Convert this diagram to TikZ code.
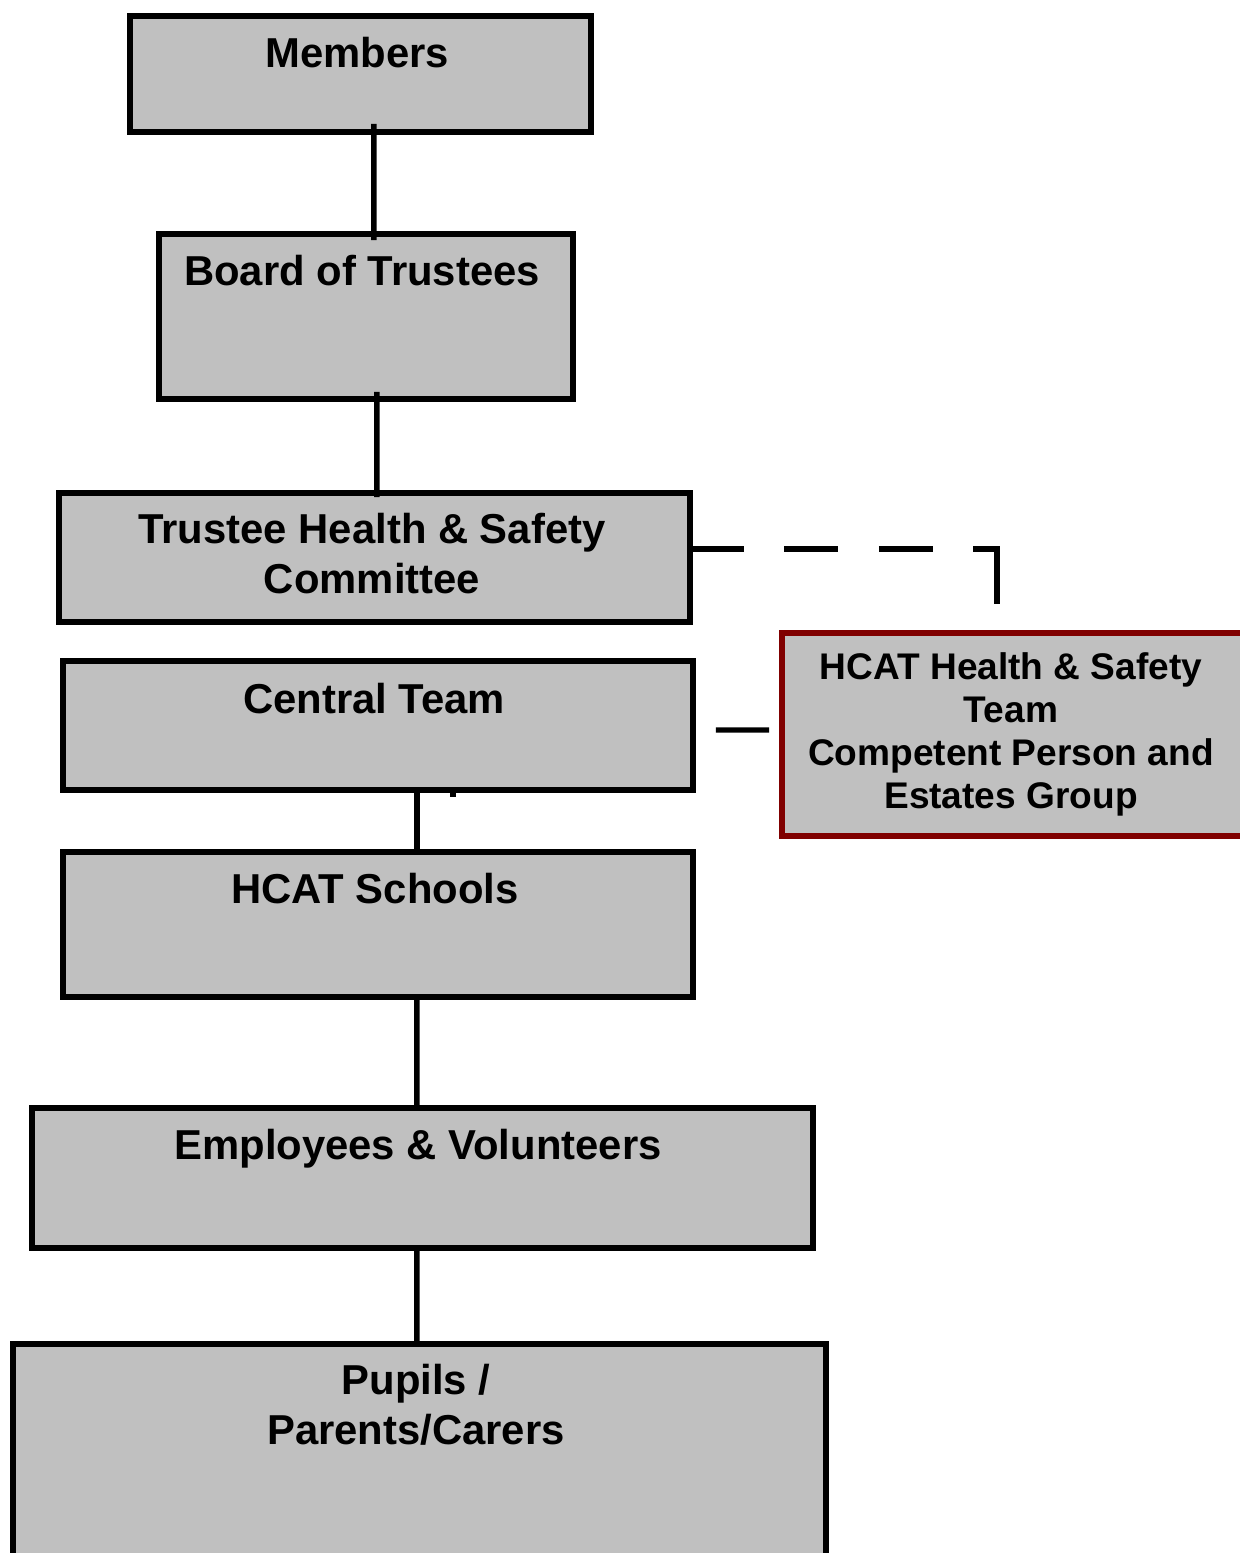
\documentclass[tikz,border=0pt]{standalone}
\usepackage{fontspec}
\setmainfont{Liberation Sans}
\usepackage{xcolor}
\usepackage{tikz}
\usetikzlibrary{positioning}

\definecolor{boxgray}{HTML}{C0C0C0}
\definecolor{teamred}{HTML}{800000}

\begin{document}
\begin{tikzpicture}[x=0.02cm, y=-0.02cm,
    orgbox/.style={draw, line width=3.3pt, fill=boxgray, anchor=north west, inner sep=0pt, outer sep=0pt},
    boxtext/.style={font=\bfseries\fontsize{23.8}{28}\selectfont, align=center, anchor=base, inner sep=0pt},
    teamtext/.style={font=\bfseries\fontsize{21.1}{24.4}\selectfont, align=center, anchor=base, inner sep=0pt},
    link/.style={line width=3.1pt}]
    \useasboundingbox (0,0) rectangle (1240,1553);
    \clip (0,0) rectangle (1240,1553);

    % Boxes
    \node[orgbox, minimum width=9.22cm, minimum height=2.32cm] (members) at (130,16) {};
    \node[orgbox, minimum width=8.28cm, minimum height=3.30cm] (board) at (159,234) {};
    \node[orgbox, minimum width=12.62cm, minimum height=2.58cm] (thsc) at (59,493) {};
    \node[orgbox, minimum width=12.60cm, minimum height=2.58cm] (central) at (63,661) {};
    \node[orgbox, minimum width=12.60cm, minimum height=2.90cm] (schools) at (63,852) {};
    \node[orgbox, minimum width=15.62cm, minimum height=2.80cm] (employees) at (32,1108) {};
    \node[orgbox, minimum width=16.26cm, minimum height=6.00cm] (pupils) at (13,1344) {};
    \node[orgbox, draw=teamred, minimum width=10.40cm, minimum height=4.06cm] (hcat) at (782,633) {};

    % Texts (last line on the baseline given)
    \node[boxtext] (memberstext) at (357,67) {Members};
    \node[boxtext] (boardtext) at (362,285) {Board of Trustees};
    \node[boxtext] (thsctext) at (372,593) {Trustee Health \& Safety\\Committee};
    \node[boxtext] (centraltext) at (374,713) {Central Team};
    \node[boxtext] (schoolstext) at (375,903) {HCAT Schools};
    \node[boxtext] (employeestext) at (418,1159) {Employees \& Volunteers};
    \node[boxtext] (pupilstext) at (416,1444) {Pupils /\\Parents/Carers};
    \node[teamtext] (hcattext) at (1011,808) {HCAT Health \& Safety\\Team\\Competent Person and\\Estates Group};

    % Lines
    \draw[link] ([xshift=0.27cm, yshift=0.16cm]members.south) -- ([xshift=0.16cm, yshift=-0.12cm]board.north);
    \draw[link] ([xshift=0.22cm, yshift=0.14cm]board.south) -- ([xshift=0.05cm, yshift=-0.08cm]thsc.north);
    \draw[link] ([xshift=0.78cm]central.south) -- ([xshift=0.78cm]schools.north);
    \draw[link] ([xshift=1.5cm]central.south) -- ++(0,7);
    \draw[link] ([xshift=0.78cm]schools.south) -- ([xshift=-0.11cm]employees.north);
    \draw[link] ([xshift=-0.11cm]employees.south) -- ([xshift=-0.05cm]pupils.north);
    \draw[link] ([shift={(0.46cm,-0.09cm)}]central.east) -- ([shift={(-0.26cm,0.09cm)}]hcat.west);

    % Dashed link
    \coordinate (dashend) at (997,604);
    \draw[link, dash pattern=on 30.6pt off 23.2pt on 30.6pt off 23.2pt on 30.6pt off 23.2pt on 80pt]
        ([yshift=0.17cm]thsc.east) -| (dashend);
\end{tikzpicture}
\end{document}
